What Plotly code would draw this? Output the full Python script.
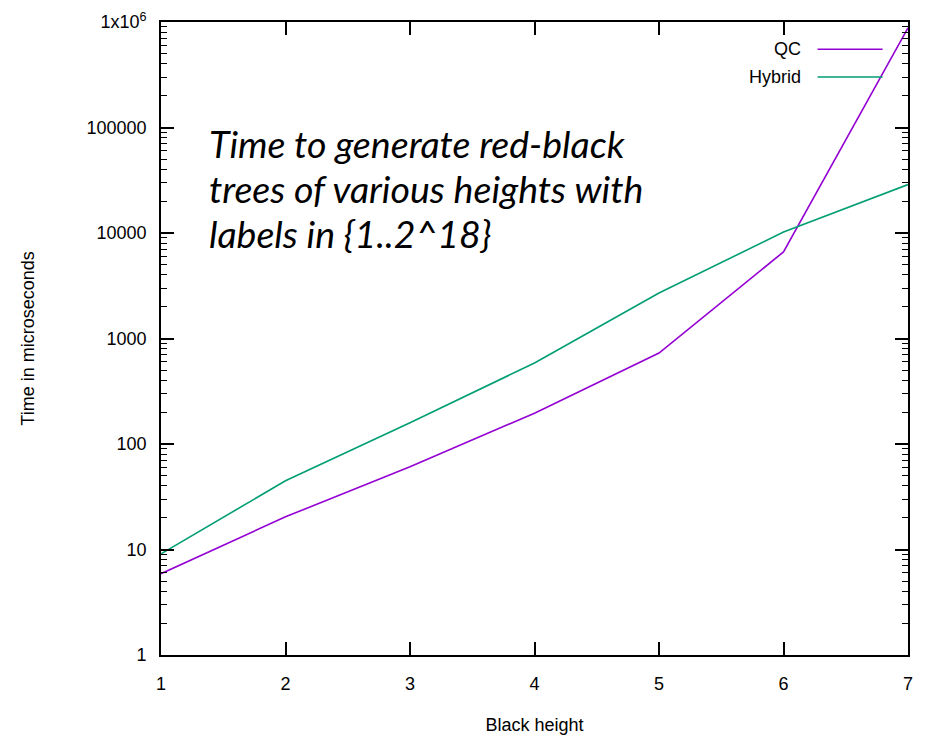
import plotly.graph_objects as go

black_height = [1, 2, 3, 4, 5, 6, 7]
qc_times = [5.9, 20.4, 60.8, 196, 728, 6620, 880000]
hybrid_times = [9.1, 44.8, 159, 586, 2700, 10200, 28800]
y_tick_vals = [1, 10, 100, 1000, 10000, 100000, 1000000]
y_tick_text = ["1", "10", "100", "1000", "10000", "100000", "1x10<sup>6</sup>"]
series_names = ["QC", "Hybrid"]
series_colors = ["#9400D3", "#009E73"]
title_lines = ["Time to generate red-black", "trees of various heights with", "labels in {1..2^18}"]

minor_vals = [d * m for d in y_tick_vals[:-1] for m in range(2, 10)]

fig = go.Figure()
for name, vals, col in zip(series_names, [qc_times, hybrid_times], series_colors):
    fig.add_trace(go.Scatter(x=black_height, y=vals, mode="lines", name=name,
                             line=dict(color=col, width=1.6), showlegend=False))

axis_font = dict(family="Liberation Sans, Arial", size=18, color="black")
fig.update_layout(
    width=918, height=729,
    margin=dict(l=153, r=18, t=14, b=82, autoexpand=False),
    paper_bgcolor="white", plot_bgcolor="white",
    xaxis=dict(range=[1, 7], tickvals=black_height, ticks="inside", ticklen=13,
               tickwidth=1.5, tickcolor="black", showline=True, linecolor="black",
               linewidth=1.8, mirror="ticks", showgrid=False, zeroline=False,
               tickfont=axis_font, ticklabelstandoff=11, automargin=False,
               title=dict(text="Black height", font=axis_font, standoff=26)),
    yaxis=dict(type="log", range=[0, 6], tickvals=y_tick_vals, ticktext=y_tick_text,
               ticks="inside", ticklen=13, tickwidth=1.5, tickcolor="black",
               showline=True, linecolor="black", linewidth=1.8, mirror="ticks",
               showgrid=False, zeroline=False, tickfont=axis_font,
               ticklabelstandoff=9, automargin=False,
               minor=dict(tickmode="array", tickvals=minor_vals, ticks="inside",
                          ticklen=6, tickwidth=1.2, tickcolor="black", showgrid=False),
               title=dict(text="Time in microseconds", font=axis_font, standoff=47)),
)

# gnuplot-style legend: text right-aligned, sample line to its right
legend_y = [0.957, 0.913]
for name, col, ly in zip(series_names, series_colors, legend_y):
    fig.add_annotation(x=0.859, y=ly, xref="paper", yref="paper", text=name,
                       showarrow=False, xanchor="right", yanchor="middle",
                       font=dict(family="Liberation Sans, Arial", size=18, color="black"))
    fig.add_shape(type="line", xref="paper", yref="paper", x0=0.879, x1=0.966,
                  y0=ly, y1=ly, line=dict(color=col, width=1.6))

title_y = [0.808, 0.737, 0.666]
for line, ty in zip(title_lines, title_y):
    fig.add_annotation(x=0.062, y=ty, xref="paper", yref="paper",
                       text="<i>" + line + "</i>",
                       showarrow=False, xanchor="left", yanchor="middle", align="left",
                       font=dict(family="Lato", size=37.5, color="black"))

fig.write_html("out.html")
